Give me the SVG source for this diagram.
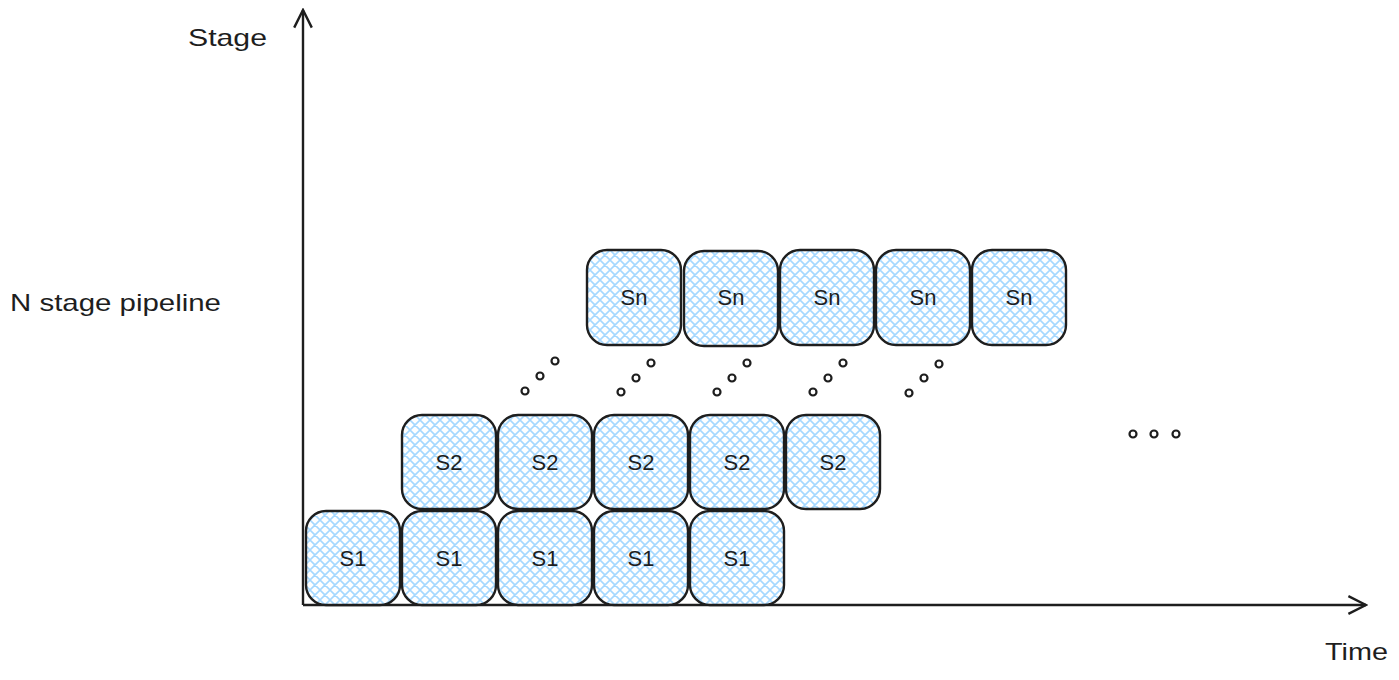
<svg xmlns="http://www.w3.org/2000/svg" width="1399" height="680" viewBox="0 0 1399 680">
<style>
.box{fill:url(#hatch);stroke:#1e1e1e;stroke-width:2.4}
.lbl{font-family:"Liberation Sans",Arial,sans-serif;font-size:22px;fill:#1e1e1e;text-anchor:middle;dominant-baseline:central}
.t{font-family:"Liberation Sans",Arial,sans-serif;font-size:24px;fill:#1e1e1e}
.axis{stroke:#1e1e1e;stroke-width:2.4;fill:none}
.dot{fill:none;stroke:#1e1e1e;stroke-width:2.2}
</style>
<defs>
<pattern id="hatch" width="10" height="10" patternUnits="userSpaceOnUse">
<rect width="10" height="10" fill="#fff"/>
<path d="M0,0 L10,10 M10,0 L0,10 M-2,8 L2,12 M8,-2 L12,2 M-2,2 L2,-2 M8,12 L12,8" stroke="#a5d8ff" stroke-width="1.6"/>
</pattern>
<marker id="arr" viewBox="0 0 20 20" refX="18" refY="10" markerWidth="22" markerHeight="22" markerUnits="userSpaceOnUse" orient="auto">
<path d="M2,2 L18,10 L2,18" fill="none" stroke="#1e1e1e" stroke-width="2.2"/>
</marker>
</defs>
<rect width="1399" height="680" fill="#fff"/>
<g id="connectors">
<path class="axis" d="M303,605 L303,10" marker-end="url(#arr)"/>
<path class="axis" d="M303,605 L1366,605" marker-end="url(#arr)"/>
</g>
<g id="s1-1"><rect class="box" x="306" y="511" width="94" height="94" rx="20"/><text class="lbl" x="353" y="558">S1</text></g>
<g id="s1-2"><rect class="box" x="402" y="511" width="94" height="94" rx="20"/><text class="lbl" x="449" y="558">S1</text></g>
<g id="s1-3"><rect class="box" x="498" y="511" width="94" height="94" rx="20"/><text class="lbl" x="545" y="558">S1</text></g>
<g id="s1-4"><rect class="box" x="594" y="511" width="94" height="94" rx="20"/><text class="lbl" x="641" y="558">S1</text></g>
<g id="s1-5"><rect class="box" x="690" y="511" width="94" height="94" rx="20"/><text class="lbl" x="737" y="558">S1</text></g>
<g id="s2-1"><rect class="box" x="402" y="415" width="94" height="94" rx="20"/><text class="lbl" x="449" y="462">S2</text></g>
<g id="s2-2"><rect class="box" x="498" y="415" width="94" height="94" rx="20"/><text class="lbl" x="545" y="462">S2</text></g>
<g id="s2-3"><rect class="box" x="594" y="415" width="94" height="94" rx="20"/><text class="lbl" x="641" y="462">S2</text></g>
<g id="s2-4"><rect class="box" x="690" y="415" width="94" height="94" rx="20"/><text class="lbl" x="737" y="462">S2</text></g>
<g id="s2-5"><rect class="box" x="786" y="415" width="94" height="94" rx="20"/><text class="lbl" x="833" y="462">S2</text></g>
<g id="sn-1"><rect class="box" x="587" y="250" width="94" height="95" rx="20"/><text class="lbl" x="634" y="297">Sn</text></g>
<g id="sn-2"><rect class="box" x="684" y="251" width="94" height="95" rx="20"/><text class="lbl" x="731" y="297">Sn</text></g>
<g id="sn-3"><rect class="box" x="780" y="250" width="94" height="95" rx="20"/><text class="lbl" x="827" y="297">Sn</text></g>
<g id="sn-4"><rect class="box" x="876" y="250" width="94" height="95" rx="20"/><text class="lbl" x="923" y="297">Sn</text></g>
<g id="sn-5"><rect class="box" x="972" y="250" width="94" height="95" rx="20"/><text class="lbl" x="1019" y="297">Sn</text></g>
<g id="dots">
<circle class="dot" cx="525" cy="391" r="3.5"/><circle class="dot" cx="540" cy="376" r="3.5"/><circle class="dot" cx="555" cy="361" r="3.5"/>
<circle class="dot" cx="621" cy="392" r="3.5"/><circle class="dot" cx="636" cy="378" r="3.5"/><circle class="dot" cx="651" cy="363" r="3.5"/>
<circle class="dot" cx="717" cy="392" r="3.5"/><circle class="dot" cx="732" cy="378" r="3.5"/><circle class="dot" cx="747" cy="363" r="3.5"/>
<circle class="dot" cx="813" cy="392" r="3.5"/><circle class="dot" cx="828" cy="378" r="3.5"/><circle class="dot" cx="843" cy="363" r="3.5"/>
<circle class="dot" cx="909" cy="393" r="3.5"/><circle class="dot" cx="924" cy="378" r="3.5"/><circle class="dot" cx="939" cy="364" r="3.5"/>
<circle class="dot" cx="1133" cy="434" r="3.5"/><circle class="dot" cx="1154" cy="434" r="3.5"/><circle class="dot" cx="1176" cy="434" r="3.5"/>
</g>
<text class="t" x="188" y="46" textLength="79" lengthAdjust="spacingAndGlyphs">Stage</text>
<text class="t" x="10" y="311" textLength="211" lengthAdjust="spacingAndGlyphs">N stage pipeline</text>
<text class="t" x="1325" y="660" textLength="63" lengthAdjust="spacingAndGlyphs">Time</text>
</svg>
